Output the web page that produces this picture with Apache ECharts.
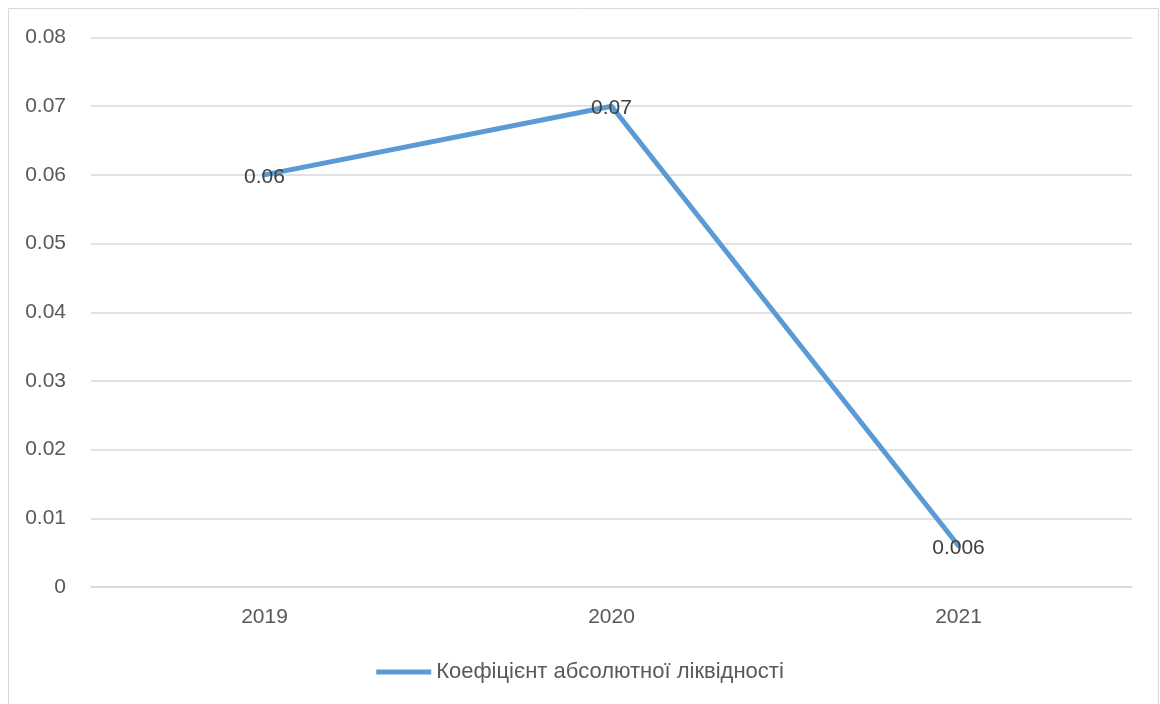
<!DOCTYPE html>
<html>
<head>
<meta charset="utf-8">
<script src="https://cdn.jsdelivr.net/npm/echarts@6/dist/echarts.min.js"></script>
<style>
  html, body { margin: 0; padding: 0; background: #ffffff; }
  #chart { width: 1160px; height: 704px; }
</style>
</head>
<body>
<div id="chart"></div>
<script>
// Years on the category axis
const years = ['2019', '2020', '2021'];
// Absolute liquidity ratio per year
const ratioValues = [0.06, 0.07, 0.006];
const seriesName = 'Коефіцієнт абсолютної ліквідності';

const font = '"Liberation Sans", Arial, sans-serif';
const chart = echarts.init(document.getElementById('chart'));

chart.setOption({
  animation: false,
  backgroundColor: '#ffffff',
  graphic: [{
    type: 'rect',
    shape: { x: 8.5, y: 8.5, width: 1150, height: 720 },
    style: { fill: 'none', stroke: '#d9d9d9', lineWidth: 1 },
    silent: true
  }],
  grid: { left: 91, right: 28, top: 37.5, bottom: 117, containLabel: false },
  legend: {
    bottom: 16,
    left: 'center',
    itemWidth: 55,
    itemHeight: 5,
    itemGap: 5,
    textStyle: { fontFamily: font, fontSize: 22, color: '#595959' },
    data: [{ name: seriesName, icon: 'path://M0,0 L55,0 L55,5 L0,5 Z' }]
  },
  xAxis: {
    type: 'category',
    data: years,
    boundaryGap: true,
    axisLine: { show: true, lineStyle: { color: '#d9d9d9', width: 1.5 } },
    axisTick: { show: false },
    axisLabel: { color: '#595959', fontFamily: font, fontSize: 21, margin: 20 }
  },
  yAxis: {
    type: 'value',
    min: 0,
    max: 0.08,
    interval: 0.01,
    axisLine: { show: false },
    axisTick: { show: false },
    axisLabel: { color: '#595959', fontFamily: font, fontSize: 21, margin: 25,
      formatter: v => (v === 0 ? '0' : v.toFixed(2)) },
    splitLine: { lineStyle: { color: '#d9d9d9', width: 1.5 } }
  },
  series: [{
    name: seriesName,
    type: 'line',
    data: ratioValues,
    symbol: 'circle',
    symbolSize: 0.1,
    showSymbol: true,
    lineStyle: { color: '#5b9bd5', width: 5, cap: 'round', join: 'round' },
    itemStyle: { color: '#5b9bd5' },
    label: {
      show: true,
      position: 'inside',
      offset: [0, 2],
      color: '#404040',
      fontFamily: font,
      fontSize: 21,
      formatter: p => String(p.value)
    }
  }]
});
</script>
</body>
</html>
